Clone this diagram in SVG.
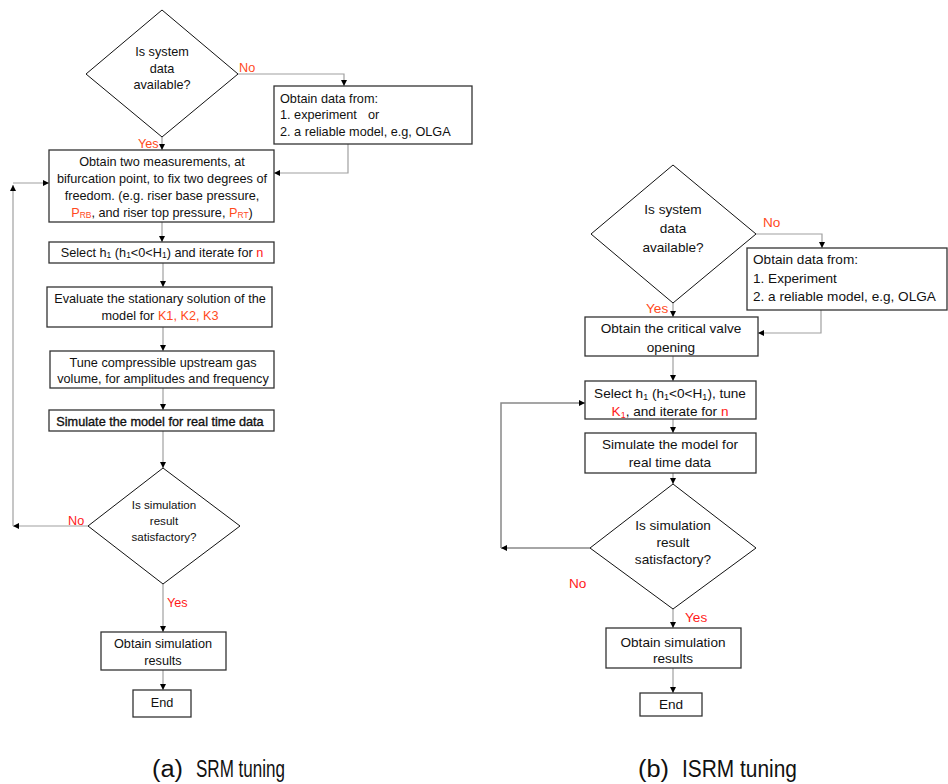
<svg xmlns="http://www.w3.org/2000/svg" width="948" height="784" viewBox="0 0 948 784">
<style>
.t{font-family:"Liberation Sans",Arial,sans-serif;font-size:12.7px;fill:#111}
.tr{font-family:"Liberation Sans",Arial,sans-serif;font-size:13.6px;fill:#111}
.ts{font-family:"Liberation Sans",Arial,sans-serif;font-size:11.6px;fill:#111}
.c{text-anchor:middle}
.or{fill:#ff4a1c}
.rd{fill:#ff1a1a}
.box{fill:#fff;stroke:#333;stroke-width:1.3}
.dia{fill:#fff;stroke:#111;stroke-width:1}
.cn{fill:none;stroke:#a0a0a0;stroke-width:1.2}
.cnd{fill:none;stroke:#888;stroke-width:1.5}
.cap{font-family:"Liberation Sans",Arial,sans-serif;font-size:23px;fill:#111}
.bold{stroke:#111;stroke-width:0.35}
</style>
<defs>
<marker id="ah" markerUnits="userSpaceOnUse" markerWidth="7" markerHeight="7" refX="6" refY="3" orient="auto">
<path d="M0,0 L6,3 L0,6 z" fill="#000"/>
</marker>
</defs>

<g id="connectors">
<!-- left -->
<path class="cn" d="M238,74 H344 V86" marker-end="url(#ah)"/>
<path class="cn" d="M348,144 V173 H274" marker-end="url(#ah)"/>
<path class="cn" d="M162,137 V150" marker-end="url(#ah)"/>
<path class="cn" d="M13,183 H49" marker-end="url(#ah)"/>
<path class="cn" d="M162,222 V242" marker-end="url(#ah)"/>
<path class="cn" d="M163,263 V287" marker-end="url(#ah)"/>
<path class="cn" d="M163,327 V351" marker-end="url(#ah)"/>
<path class="cn" d="M163,388 V410" marker-end="url(#ah)"/>
<path class="cn" d="M163,431 V468" marker-end="url(#ah)"/>
<path class="cn" d="M88,526 H13" marker-end="url(#ah)"/>
<path class="cn" d="M13,526 V185" marker-end="url(#ah)"/>
<path class="cn" d="M163,584 V632" marker-end="url(#ah)"/>
<path class="cn" d="M163,670 V690" marker-end="url(#ah)"/>
<!-- right -->
<path class="cn" d="M756,234 H822 V248" marker-end="url(#ah)"/>
<path class="cn" d="M821,310 V333 H758" marker-end="url(#ah)"/>
<path class="cn" d="M673,303 V317" marker-end="url(#ah)"/>
<path class="cn" d="M673,356 V381" marker-end="url(#ah)"/>
<path class="cn" d="M673,419 V433" marker-end="url(#ah)"/>
<path class="cn" d="M673,473 V484" marker-end="url(#ah)"/>
<path class="cnd" d="M590,548 H501" marker-end="url(#ah)"/>
<path class="cnd" d="M501,548 V403 H585" marker-end="url(#ah)"/>
<path class="cn" d="M673,609 V628" marker-end="url(#ah)"/>
<path class="cn" d="M673,668 V693" marker-end="url(#ah)"/>
</g>

<g id="labels">
<text class="t or" x="239" y="72">No</text>
<text class="t or" x="138" y="148">Yes</text>
<text class="t rd" x="68" y="525">No</text>
<text class="t rd" x="167" y="607">Yes</text>
<text class="tr or" x="763" y="227">No</text>
<text class="tr or" x="646" y="313">Yes</text>
<text class="tr rd" x="569" y="588">No</text>
<text class="tr rd" x="685" y="622">Yes</text>
</g>

<!-- Left flowchart -->
<g id="L_d1">
<polygon class="dia" points="162,10 238,74 162,137 86,74"/>
<text class="t c" x="162" y="56">Is system</text>
<text class="t c" x="162" y="72.5">data</text>
<text class="t c" x="162" y="89">available?</text>
</g>
<g id="L_data">
<rect class="box" x="274" y="86" width="198" height="58"/>
<text class="t" x="280" y="102.5">Obtain data from:</text>
<text class="t" x="280" y="119">1. experiment</text>
<text class="t" x="368" y="119">or</text>
<text class="t" x="280" y="135.5">2. a reliable model, e.g, OLGA</text>
</g>
<g id="L_meas">
<rect class="box" x="49" y="150" width="225" height="72"/>
<text class="t c" x="162" y="165.5">Obtain two measurements, at</text>
<text class="t c" x="162" y="182.5">bifurcation point, to fix two degrees of</text>
<text class="t c" x="162" y="199.5">freedom. (e.g. riser base pressure,</text>
<text class="t c" x="162" y="216.5"><tspan class="or">P</tspan><tspan class="or" font-size="8.5" dy="1.5">RB</tspan><tspan dy="-1.5">, and riser top pressure, </tspan><tspan class="or">P</tspan><tspan class="or" font-size="8.5" dy="1.5">RT</tspan><tspan dy="-1.5">)</tspan></text>
</g>
<g id="L_select">
<rect class="box" x="49" y="242" width="225" height="21"/>
<text class="t c" x="162" y="256.5">Select h<tspan font-size="8.5" dy="1.5">1</tspan><tspan dy="-1.5"> (h</tspan><tspan font-size="8.5" dy="1.5">1</tspan><tspan dy="-1.5">&lt;0&lt;H</tspan><tspan font-size="8.5" dy="1.5">1</tspan><tspan dy="-1.5">) and iterate for </tspan><tspan class="rd">n</tspan></text>
</g>
<g id="L_eval">
<rect class="box" x="47" y="287" width="225" height="40"/>
<text class="t c" x="160" y="302.5">Evaluate the stationary solution of the</text>
<text class="t c" x="160" y="319.5">model for <tspan class="or">K1, K2, K3</tspan></text>
</g>
<g id="L_tune">
<rect class="box" x="50" y="351" width="224" height="37"/>
<text class="t c" x="163" y="366.5">Tune compressible upstream gas</text>
<text class="t c" x="163" y="382.5">volume, for amplitudes and frequency</text>
</g>
<g id="L_sim">
<rect class="box" x="49" y="410" width="225" height="21"/>
<text class="t c bold" x="160" y="425.5">Simulate the model for real time data</text>
</g>
<g id="L_d2">
<polygon class="dia" points="163,468 240,526 163,584 88,526"/>
<text class="ts c" x="164" y="509">Is simulation</text>
<text class="ts c" x="164" y="525">result</text>
<text class="ts c" x="164" y="541">satisfactory?</text>
</g>
<g id="L_results">
<rect class="box" x="101" y="632" width="125" height="38"/>
<text class="t c" x="163" y="647.5">Obtain simulation</text>
<text class="t c" x="163" y="664.5">results</text>
</g>
<g id="L_end">
<rect class="box" x="133" y="690" width="58" height="27"/>
<text class="t c" x="162" y="706.5">End</text>
</g>

<!-- Right flowchart -->
<g id="R_d1">
<polygon class="dia" points="673,165 756,234 673,303 591,234"/>
<text class="tr c" x="673" y="214">Is system</text>
<text class="tr c" x="673" y="233">data</text>
<text class="tr c" x="673" y="252">available?</text>
</g>
<g id="R_data">
<rect class="box" x="747" y="248" width="200" height="62"/>
<text class="tr" x="753" y="264">Obtain data from:</text>
<text class="tr" x="753" y="282.5">1. Experiment</text>
<text class="tr" x="753" y="301">2. a reliable model, e.g, OLGA</text>
</g>
<g id="R_valve">
<rect class="box" x="585" y="317" width="173" height="39"/>
<text class="tr c" x="671" y="333">Obtain the critical valve</text>
<text class="tr c" x="671" y="352">opening</text>
</g>
<g id="R_select">
<rect class="box" x="585" y="381" width="171" height="38"/>
<text class="tr c" x="670" y="398">Select h<tspan font-size="9" dy="1.5">1</tspan><tspan dy="-1.5"> (h</tspan><tspan font-size="9" dy="1.5">1</tspan><tspan dy="-1.5">&lt;0&lt;H</tspan><tspan font-size="9" dy="1.5">1</tspan><tspan dy="-1.5">), tune</tspan></text>
<text class="tr c" x="670" y="416"><tspan class="rd">K</tspan><tspan class="rd" font-size="9" dy="1.5">1</tspan><tspan dy="-1.5">, and iterate for </tspan><tspan class="rd">n</tspan></text>
</g>
<g id="R_sim">
<rect class="box" x="585" y="433" width="171" height="40"/>
<text class="tr c" x="670" y="449">Simulate the model for</text>
<text class="tr c" x="670" y="467">real time data</text>
</g>
<g id="R_d2">
<polygon class="dia" points="673,484 756,548 673,609 590,548"/>
<text class="tr c" x="673" y="530">Is simulation</text>
<text class="tr c" x="673" y="547">result</text>
<text class="tr c" x="673" y="564">satisfactory?</text>
</g>
<g id="R_results">
<rect class="box" x="606" y="628" width="135" height="40"/>
<text class="tr c" x="673" y="647">Obtain simulation</text>
<text class="tr c" x="673" y="663">results</text>
</g>
<g id="R_end">
<rect class="box" x="640" y="693" width="62" height="23"/>
<text class="tr c" x="671" y="709">End</text>
</g>

<g id="captions">
<text class="cap" x="152" y="777" textLength="31" lengthAdjust="spacingAndGlyphs">(a)</text>
<text class="cap" x="196" y="777" textLength="89" lengthAdjust="spacingAndGlyphs">SRM tuning</text>
<text class="cap" x="638" y="777" textLength="31" lengthAdjust="spacingAndGlyphs">(b)</text>
<text class="cap" x="682" y="777" textLength="115" lengthAdjust="spacingAndGlyphs">ISRM tuning</text>
</g>
</svg>
